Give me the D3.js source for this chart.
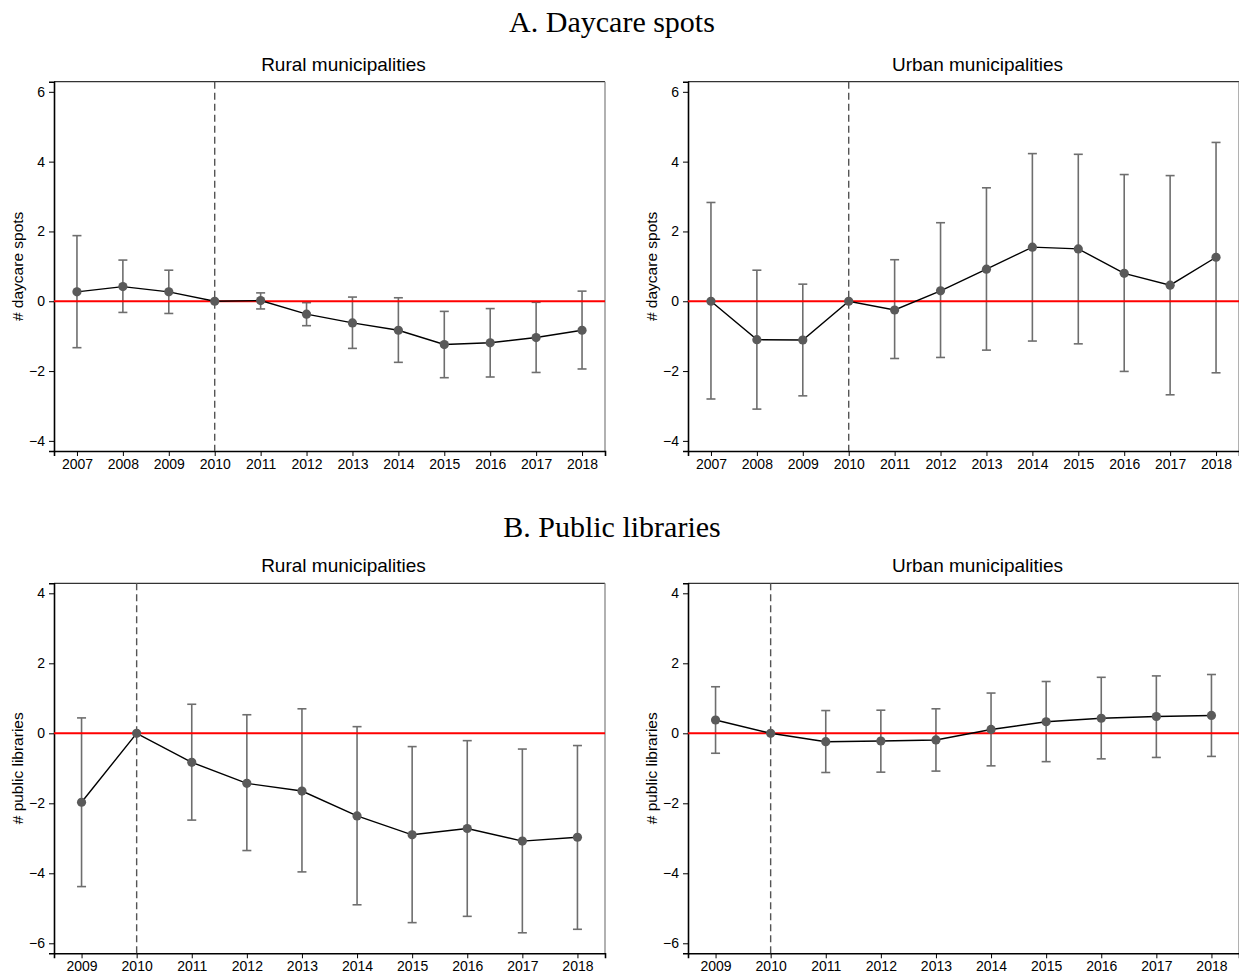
<!DOCTYPE html>
<html>
<head>
<meta charset="utf-8">
<script src="https://cdn.jsdelivr.net/npm/d3@7"></script>
<style>
  html, body { margin: 0; padding: 0; background: #fff; }
  svg { display: block; }
  text { font-family: "Liberation Sans", Arial, sans-serif; fill: #000; }
</style>
</head>
<body>
<svg id="chart" width="1239" height="980"></svg>
<script>
// ---- Data ----
const yearsDaycare = [2007, 2008, 2009, 2010, 2011, 2012, 2013, 2014, 2015, 2016, 2017, 2018];
const ruralDaycare   = [0.27, 0.42, 0.27, 0, 0.02, -0.37, -0.62, -0.83, -1.24, -1.19, -1.04, -0.83];
const ruralDaycareLo = [-1.33, -0.32, -0.35, null, -0.22, -0.70, -1.35, -1.75, -2.19, -2.17, -2.04, -1.94];
const ruralDaycareHi = [1.88, 1.18, 0.89, null, 0.24, -0.04, 0.12, 0.10, -0.29, -0.21, -0.03, 0.29];
const urbanDaycare   = [0, -1.10, -1.11, 0, -0.25, 0.30, 0.92, 1.55, 1.50, 0.80, 0.46, 1.26];
const urbanDaycareLo = [-2.80, -3.09, -2.71, null, -1.64, -1.61, -1.40, -1.14, -1.22, -2.01, -2.68, -2.05];
const urbanDaycareHi = [2.83, 0.89, 0.49, null, 1.19, 2.25, 3.25, 4.23, 4.21, 3.63, 3.60, 4.55];

const yearsLibraries = [2009, 2010, 2011, 2012, 2013, 2014, 2015, 2016, 2017, 2018];
const ruralLibraries   = [-1.97, 0, -0.83, -1.43, -1.65, -2.36, -2.90, -2.72, -3.08, -2.97];
const ruralLibrariesLo = [-4.38, null, -2.48, -3.35, -3.96, -4.90, -5.41, -5.23, -5.70, -5.60];
const ruralLibrariesHi = [0.44, null, 0.83, 0.53, 0.70, 0.19, -0.38, -0.21, -0.45, -0.35];
const urbanLibraries   = [0.38, 0, -0.24, -0.22, -0.19, 0.11, 0.33, 0.43, 0.48, 0.51];
const urbanLibrariesLo = [-0.57, null, -1.12, -1.11, -1.08, -0.93, -0.81, -0.73, -0.69, -0.66];
const urbanLibrariesHi = [1.33, null, 0.65, 0.66, 0.70, 1.15, 1.48, 1.60, 1.64, 1.68];

const ticksDaycare = [-4, -2, 0, 2, 4, 6];
const ticksLibraries = [-6, -4, -2, 0, 2, 4];
const sectionTitles = ["A. Daycare spots", "B. Public libraries"];
const panelTitles = ["Rural municipalities", "Urban municipalities"];
const yLabels = ["# daycare spots", "# public libraries"];
const eventYear = 2010;

// ---- Drawing ----
const svg = d3.select("#chart");

function panel(opts) {
  const { left, right, top, bottom, xDomain, yDomain, years, vals, lo, hi, yTicks, title, yLabel } = opts;
  const x = d3.scaleLinear().domain(xDomain).range([left, right]);
  const y = d3.scaleLinear().domain(yDomain).range([bottom, top]);
  const g = svg.append("g");

  // frame (top/right)
  g.append("line").attr("x1", left).attr("x2", right).attr("y1", top).attr("y2", top)
    .attr("stroke", "#333").attr("stroke-width", 1.3);
  g.append("line").attr("x1", right).attr("x2", right).attr("y1", top).attr("y2", bottom)
    .attr("stroke", "#888").attr("stroke-width", 1.3);

  // y axis
  const yAxis = d3.axisLeft(y).tickValues(yTicks).tickSize(5).tickPadding(4).tickFormat(d3.format("d"));
  const ya = g.append("g").attr("transform", `translate(${left},0)`).call(yAxis);
  ya.select(".domain").attr("stroke", "#000").attr("stroke-width", 1.6);
  ya.selectAll(".tick line").attr("stroke", "#000").attr("stroke-width", 1);
  ya.selectAll(".tick text").style("font-size", "14px").style("font-family", "Liberation Sans, Arial, sans-serif").attr("fill", "#000");

  // x axis
  const xAxis = d3.axisBottom(x).tickValues(years).tickSize(5).tickPadding(3).tickFormat(d3.format("d"));
  const xa = g.append("g").attr("transform", `translate(0,${bottom})`).call(xAxis);
  xa.select(".domain").attr("stroke", "#000").attr("stroke-width", 1.6);
  xa.selectAll(".tick line").attr("stroke", "#000").attr("stroke-width", 1);
  xa.selectAll(".tick text").style("font-size", "14px").style("font-family", "Liberation Sans, Arial, sans-serif").attr("fill", "#000");

  // dashed event line
  g.append("line").attr("x1", x(eventYear)).attr("x2", x(eventYear))
    .attr("y1", top).attr("y2", bottom)
    .attr("stroke", "#555").attr("stroke-width", 1.4).attr("stroke-dasharray", "7,4");

  // error bars
  const data = years.map((yr, i) => ({ yr, v: vals[i], lo: lo[i], hi: hi[i] }));
  const eb = data.filter(d => d.lo !== null);
  const cap = 4.5;
  const ebg = g.append("g").attr("stroke", "#6e6e6e").attr("stroke-width", 1.6).attr("fill", "none");
  ebg.selectAll("line.v").data(eb).join("line").attr("class", "v")
    .attr("x1", d => x(d.yr)).attr("x2", d => x(d.yr)).attr("y1", d => y(d.lo)).attr("y2", d => y(d.hi));
  ebg.selectAll("line.h").data(eb).join("line").attr("class", "h")
    .attr("x1", d => x(d.yr) - cap).attr("x2", d => x(d.yr) + cap).attr("y1", d => y(d.hi)).attr("y2", d => y(d.hi));
  ebg.selectAll("line.l").data(eb).join("line").attr("class", "l")
    .attr("x1", d => x(d.yr) - cap).attr("x2", d => x(d.yr) + cap).attr("y1", d => y(d.lo)).attr("y2", d => y(d.lo));

  // red zero line
  g.append("line").attr("x1", left).attr("x2", right).attr("y1", y(0)).attr("y2", y(0))
    .attr("stroke", "#ff0000").attr("stroke-width", 2);

  // connecting line
  g.append("path").datum(data)
    .attr("d", d3.line().x(d => x(d.yr)).y(d => y(d.v)))
    .attr("fill", "none").attr("stroke", "#000").attr("stroke-width", 1.4);

  // points
  g.selectAll("circle").data(data).join("circle")
    .attr("cx", d => x(d.yr)).attr("cy", d => y(d.v)).attr("r", 4.6)
    .attr("fill", "#5a5a5a");

  // panel title
  g.append("text").attr("x", (left + right) / 2 + 14).attr("y", top - 11)
    .attr("text-anchor", "middle").style("font-size", "19px").text(title);

  // y label
  g.append("text").attr("transform", `translate(${left - 31},${(top + bottom) / 2}) rotate(-90)`)
    .attr("text-anchor", "middle").style("font-size", "15.5px").text(yLabel);
}

// Section titles
svg.append("text").attr("x", 612).attr("y", 32).attr("text-anchor", "middle")
  .style("font-family", "Liberation Serif, 'Times New Roman', serif").style("font-size", "30px").text(sectionTitles[0]);
svg.append("text").attr("x", 612).attr("y", 537).attr("text-anchor", "middle")
  .style("font-family", "Liberation Serif, 'Times New Roman', serif").style("font-size", "30px").text(sectionTitles[1]);

const topA = 81.7, bottomA = 451, topB = 583.3, bottomB = 953.3;
const leftL = 54, rightL = 605, leftR = 688, rightR = 1239;

panel({ left: leftL, right: rightL, top: topA, bottom: bottomA, xDomain: [2006.5, 2018.5], yDomain: [-4.29, 6.29],
  years: yearsDaycare, vals: ruralDaycare, lo: ruralDaycareLo, hi: ruralDaycareHi, yTicks: ticksDaycare,
  title: panelTitles[0], yLabel: yLabels[0] });
panel({ left: leftR, right: rightR, top: topA, bottom: bottomA, xDomain: [2006.5, 2018.5], yDomain: [-4.29, 6.29],
  years: yearsDaycare, vals: urbanDaycare, lo: urbanDaycareLo, hi: urbanDaycareHi, yTicks: ticksDaycare,
  title: panelTitles[1], yLabel: yLabels[0] });
panel({ left: leftL, right: rightL, top: topB, bottom: bottomB, xDomain: [2008.5, 2018.5], yDomain: [-6.286, 4.286],
  years: yearsLibraries, vals: ruralLibraries, lo: ruralLibrariesLo, hi: ruralLibrariesHi, yTicks: ticksLibraries,
  title: panelTitles[0], yLabel: yLabels[1] });
panel({ left: leftR, right: rightR, top: topB, bottom: bottomB, xDomain: [2008.5, 2018.5], yDomain: [-6.286, 4.286],
  years: yearsLibraries, vals: urbanLibraries, lo: urbanLibrariesLo, hi: urbanLibrariesHi, yTicks: ticksLibraries,
  title: panelTitles[1], yLabel: yLabels[1] });
</script>
</body>
</html>
